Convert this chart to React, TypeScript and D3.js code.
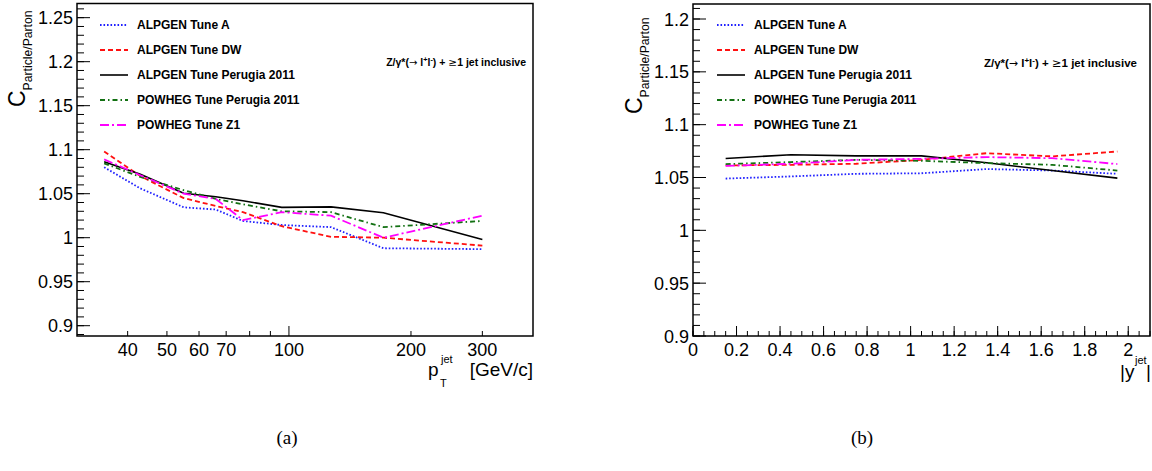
import React from "react";
import * as d3 from "d3";

// ---------- data ----------
const seriesNames = [
  "ALPGEN Tune A",
  "ALPGEN Tune DW",
  "ALPGEN Tune Perugia 2011",
  "POWHEG Tune Perugia 2011",
  "POWHEG Tune Z1",
];
const seriesColors = ["#2020ff", "#ff1010", "#000000", "#127012", "#ff00ff"];
const seriesDash = ["1.6,1.9", "5,3", "", "5,3,1.5,3", "9,3,2,3"];

// (a) vs jet pT
const ptCenters = [35, 43, 55, 66, 77, 96, 127, 171, 300];
const ptTuneA = [1.08, 1.056, 1.0345, 1.032, 1.019, 1.0144, 1.012, 0.988, 0.987];
const ptTuneDW = [1.098, 1.07, 1.045, 1.036, 1.029, 1.013, 1.001, 1.0, 0.991];
const ptAlpPerugia = [1.0864, 1.072, 1.0505, 1.0466, 1.042, 1.0345, 1.035, 1.0284, 0.998];
const ptPowPerugia = [1.0845, 1.069, 1.054, 1.044, 1.038, 1.03, 1.029, 1.012, 1.019];
const ptPowZ1 = [1.089, 1.071, 1.05, 1.044, 1.02, 1.029, 1.025, 1.0, 1.025];

// (b) vs |y jet|
const yCenters = [0.15, 0.45, 0.75, 1.05, 1.35, 1.65, 1.95];
const yTuneA = [1.049, 1.051, 1.0535, 1.054, 1.058, 1.0566, 1.0535];
const yTuneDW = [1.0614, 1.062, 1.063, 1.0667, 1.073, 1.07, 1.0746];
const yAlpPerugia = [1.068, 1.0716, 1.0705, 1.0705, 1.064, 1.0566, 1.0494];
const yPowPerugia = [1.0627, 1.0646, 1.0667, 1.0658, 1.0636, 1.062, 1.0566];
const yPowZ1 = [1.061, 1.063, 1.0667, 1.0677, 1.0693, 1.0683, 1.0627];

// ticks
const ptLabelTicks = [40, 50, 60, 70, 100, 200, 300];
const ptMinorTicks = [40, 50, 60, 70, 80, 90, 200, 300];
const ptMajorTicks = [100];
const leftYLabels = [0.9, 0.95, 1, 1.05, 1.1, 1.15, 1.2, 1.25];
const rightYLabels = [0.9, 0.95, 1, 1.05, 1.1, 1.15, 1.2];
const rapLabelTicks = [0, 0.2, 0.4, 0.6, 0.8, 1, 1.2, 1.4, 1.6, 1.8, 2];

const FONT = "'Liberation Sans', Arial, Helvetica, sans-serif";
const SERIF = "'Liberation Serif', 'Times New Roman', serif";

type PanelProps = {
  xScale: any;
  yScale: any;
  xs: number[];
  series: number[][];
  frame: { x0: number; x1: number; y0: number; y1: number };
  xMajor: number[];
  xMinor: number[];
  xLabels: number[];
  yLabels: number[];
  yMinorDomain: [number, number];
  legendX: number;
  annot: { x: number; y: number; size: number };
  ytitle: { x: number; y: number };
};

function Panel(p: PanelProps) {
  const { x0, x1, y0, y1 } = p.frame;
  const line = d3
    .line<[number, number]>()
    .x((d) => p.xScale(d[0]))
    .y((d) => p.yScale(d[1]));
  const yMinor: number[] = [];
  for (let v = Math.ceil(p.yMinorDomain[0] * 100); v <= Math.floor(p.yMinorDomain[1] * 100); v++) {
    yMinor.push(v / 100);
  }
  const fmt = (v: number) => String(+v.toFixed(2));
  const s = p.annot.size;
  return (
    <g>
      {/* data */}
      {p.series.map((vals, i) => (
        <path
          key={i}
          d={line(p.xs.map((x, j) => [x, vals[j]] as [number, number])) || ""}
          fill="none"
          stroke={seriesColors[i]}
          strokeWidth={i === 2 ? 1.6 : 1.8}
          strokeDasharray={seriesDash[i]}
        />
      ))}
      {/* frame */}
      <rect x={x0} y={y0} width={x1 - x0} height={y1 - y0} fill="none" stroke="#000" strokeWidth={1.5} />
      {/* y ticks */}
      {yMinor.map((v) => (
        <line key={"ym" + v} x1={x0} x2={x0 + 7} y1={p.yScale(v)} y2={p.yScale(v)} stroke="#000" strokeWidth={1} />
      ))}
      {p.yLabels.map((v) => (
        <g key={"yl" + v}>
          <line x1={x0} x2={x0 + 13} y1={p.yScale(v)} y2={p.yScale(v)} stroke="#000" strokeWidth={1} />
          <text x={x0 - 4} y={p.yScale(v) + 6.5} textAnchor="end" fontSize={18} fontFamily={FONT}>
            {fmt(v)}
          </text>
        </g>
      ))}
      {/* x ticks */}
      {p.xMinor.map((v) => (
        <line key={"xm" + v} x1={p.xScale(v)} x2={p.xScale(v)} y1={y1} y2={y1 - 5} stroke="#000" strokeWidth={1} />
      ))}
      {p.xMajor.map((v) => (
        <line key={"xM" + v} x1={p.xScale(v)} x2={p.xScale(v)} y1={y1} y2={y1 - 10} stroke="#000" strokeWidth={1} />
      ))}
      {p.xLabels.map((v) => (
        <text key={"xl" + v} x={p.xScale(v)} y={y1 + 20} textAnchor="middle" fontSize={18} fontFamily={FONT}>
          {fmt(v)}
        </text>
      ))}
      {/* legend */}
      {seriesNames.map((name, i) => {
        const cy = 25 + i * 25;
        return (
          <g key={"lg" + i}>
            <line
              x1={p.legendX}
              x2={p.legendX + 28}
              y1={cy}
              y2={cy}
              stroke={seriesColors[i]}
              strokeWidth={i === 2 ? 1.6 : 1.8}
              strokeDasharray={seriesDash[i]}
            />
            <text x={p.legendX + 37} y={cy + 4.3} fontSize={12} fontWeight="bold" fontFamily={FONT}>
              {name}
            </text>
          </g>
        );
      })}
      {/* annotation */}
      <text x={p.annot.x} y={p.annot.y} textAnchor="end" fontSize={s} fontWeight="bold" fontFamily={FONT}>
        {"Z/γ*("}
        <tspan fontFamily="'DejaVu Sans', sans-serif" fontWeight="normal" fontSize={s * 0.95}>{"→"}</tspan>
        <tspan>{" l"}</tspan>
        <tspan dy={-s * 0.38} fontSize={s * 0.7}>+</tspan>
        <tspan dy={s * 0.38}>l</tspan>
        <tspan dy={-s * 0.38} fontSize={s * 0.7}>-</tspan>
        <tspan dy={s * 0.38}>{") +  "}</tspan>
        <tspan fontFamily="'DejaVu Sans', sans-serif" fontWeight="normal">{"≥"}</tspan>
        <tspan>{"1 jet inclusive"}</tspan>
      </text>
      {/* y title */}
      <text transform={`translate(${p.ytitle.x},${p.ytitle.y}) rotate(-90)`} fontSize={23} fontFamily={FONT}>
        C
        <tspan fontSize={12.2} dy={7}>
          Particle/Parton
        </tspan>
      </text>
    </g>
  );
}

export default function App() {
  const leftFrame = { x0: 77, x1: 533, y0: 3.5, y1: 336 };
  const rightFrame = { x0: 693, x1: 1150, y0: 4, y1: 336 };

  const xL = d3.scaleLog().domain([30, 400]).range([leftFrame.x0, leftFrame.x1]);
  const yL = d3.scaleLinear().domain([0.8883, 1.2661]).range([leftFrame.y1, leftFrame.y0]);
  const xR = d3.scaleLinear().domain([0, 2.1]).range([rightFrame.x0, rightFrame.x1]);
  const yR = d3.scaleLinear().domain([0.9, 1.2142]).range([rightFrame.y1, rightFrame.y0]);

  const rapMinor = d3.range(0, 2.1001, 0.05).map((v) => +v.toFixed(2));

  return (
    <svg width={1152} height={471} style={{ position: "absolute", left: 0, top: 0, background: "#fff" }}>
      <rect x={0} y={0} width={1152} height={471} fill="#fff" />
      <Panel
        xScale={xL}
        yScale={yL}
        xs={ptCenters}
        series={[ptTuneA, ptTuneDW, ptAlpPerugia, ptPowPerugia, ptPowZ1]}
        frame={leftFrame}
        xMajor={ptMajorTicks}
        xMinor={ptMinorTicks}
        xLabels={ptLabelTicks}
        yLabels={leftYLabels}
        yMinorDomain={[0.89, 1.26]}
        legendX={100}
        annot={{ x: 526, y: 66, size: 10.5 }}
        ytitle={{ x: 25, y: 107 }}
      />
      <Panel
        xScale={xR}
        yScale={yR}
        xs={yCenters}
        series={[yTuneA, yTuneDW, yAlpPerugia, yPowPerugia, yPowZ1]}
        frame={rightFrame}
        xMajor={rapLabelTicks}
        xMinor={rapMinor}
        xLabels={rapLabelTicks}
        yLabels={rightYLabels}
        yMinorDomain={[0.9, 1.21]}
        legendX={717}
        annot={{ x: 1137, y: 67, size: 11.5 }}
        ytitle={{ x: 642, y: 114 }}
      />
      {/* x axis titles */}
      <text x={428} y={376} fontSize={19} fontFamily={FONT}>p</text>
      <text x={441} y={363} fontSize={11} fontFamily={FONT}>jet</text>
      <text x={440} y={387} fontSize={11} fontFamily={FONT}>T</text>
      <text x={533} y={376} textAnchor="end" fontSize={19} fontFamily={FONT}>[GeV/c]</text>

      <text x={1120} y={378} fontSize={19} fontFamily={FONT}>|y</text>
      <text x={1135} y={364} fontSize={11} fontFamily={FONT}>jet</text>
      <text x={1146} y={378} fontSize={19} fontFamily={FONT}>|</text>

      {/* captions */}
      <text x={287} y={444} textAnchor="middle" fontSize={19} fontFamily={SERIF}>(a)</text>
      <text x={862} y={444} textAnchor="middle" fontSize={19} fontFamily={SERIF}>(b)</text>
    </svg>
  );
}
